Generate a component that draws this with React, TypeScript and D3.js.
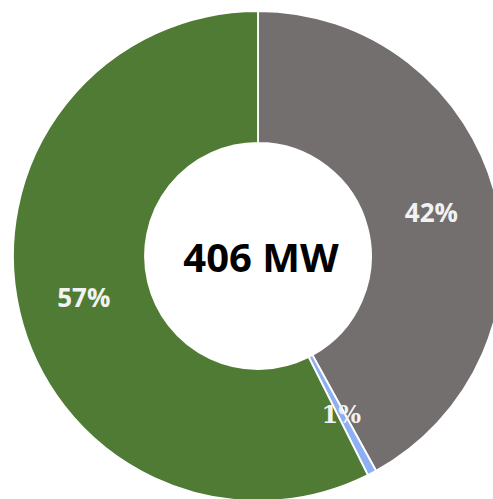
import * as d3 from "d3";

const categories = ["Gray", "Blue", "Green"];
const shares = [42, 0.6, 57.4];
const labels = ["42%", "1%", "57%"];
const colors = ["#736F6E", "#8DB0F5", "#507B34"];
const totalLabel = "406 MW";

const W = 493;
const H = 499;

export default function App() {
  const cx = 258;
  const cy = 256;
  const outer = 245;
  const inner = 113;

  const pie = d3
    .pie<number>()
    .sort(null)
    .value((d) => d);
  const arcs = pie(shares);
  const arc = d3.arc<d3.PieArcDatum<number>>().innerRadius(inner).outerRadius(outer);
  const labelArc = d3
    .arc<d3.PieArcDatum<number>>()
    .innerRadius(179)
    .outerRadius(179);

  return (
    <svg
      width={W}
      height={H}
      style={{ position: "absolute", left: 0, top: 0, background: "#fff" }}
    >
      <g transform={`translate(${cx},${cy})`}>
        {arcs.map((a, i) => (
          <path
            key={categories[i]}
            d={arc(a) ?? ""}
            fill={colors[i]}
            stroke="#fff"
            strokeWidth={1.8}
          />
        ))}
        {arcs.map((a, i) => {
          const [x, y] = labelArc.centroid(a);
          const small = i === 1;
          return (
            <text
              key={"l" + i}
              x={x}
              y={y}
              textAnchor="middle"
              dominantBaseline="central"
              fill="#F2F2F2"
              fontFamily={small ? "'DejaVu Serif', serif" : "'Open Sans', sans-serif"}
              fontWeight={700}
              fontSize={small ? 24 : 26}
            >
              {labels[i]}
            </text>
          );
        })}
        <text
          x={3}
          y={16}
          textAnchor="middle"
          fill="#000"
          fontFamily="'Open Sans', sans-serif"
          fontWeight={700}
          fontSize={40}
        >
          {totalLabel}
        </text>
      </g>
    </svg>
  );
}
